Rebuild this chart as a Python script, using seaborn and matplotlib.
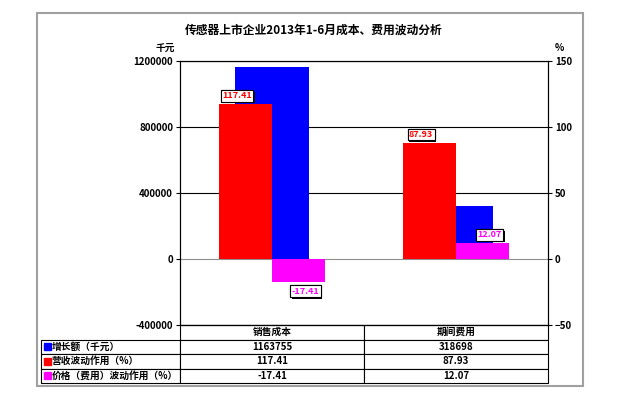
import pandas as pd
import matplotlib.pyplot as plt
import matplotlib.patheffects as pe
from matplotlib.patches import Rectangle
from matplotlib.ticker import FuncFormatter
import seaborn as sns

# 数据
categories = ['销售成本', '期间费用']
growth = [1163755, 318698]          # 增长额（千元）
revenue_effect = [117.41, 87.93]    # 营收波动作用（%）
price_effect = [-17.41, 12.07]      # 价格（费用）波动作用（%）
row_names = ['增长额（千元）', '营收波动作用（%）', '价格（费用）波动作用（%）']
left_ticks = [-400000, 0, 400000, 800000, 1200000]
right_ticks = [-50, 0, 50, 100, 150]

sns.set_style('white')
plt.rcParams['font.family'] = ['Noto Sans CJK SC', 'DejaVu Sans']
plt.rcParams['font.weight'] = 'bold'
plt.rcParams['text.color'] = 'black'
plt.rcParams['ytick.color'] = 'black'
plt.rcParams['ytick.labelcolor'] = 'black'

df_pct = pd.DataFrame({
    'cat': categories * 2,
    'serie': ['营收'] * 2 + ['价格'] * 2,
    'val': revenue_effect + price_effect,
})

fig = plt.figure(figsize=(6.18, 3.99), dpi=100)
fig.patches.append(Rectangle((37 / 618, 1 - 386 / 399), 546 / 618, 373 / 399,
                             transform=fig.transFigure, fill=False,
                             edgecolor='#a0a0a0', lw=1.5))
ax = fig.add_axes([180 / 618, 1 - 325 / 399, 368 / 618, 264 / 399])

sns.barplot(x=categories, y=growth, color='blue', saturation=1, width=0.40,
            linewidth=0, ax=ax)
ax.set_ylim(left_ticks[0], left_ticks[-1])
ax.set_yticks(left_ticks)
ax.yaxis.set_major_formatter(FuncFormatter(lambda v, p: f'{v:.0f}'))
ax.grid(axis='y', color='black', lw=0.8)
ax.get_ygridlines()[1].set_color('#909090')
ax.set_axisbelow(True)

ax2 = ax.twinx()
sns.barplot(data=df_pct, x='cat', y='val', hue='serie', palette=['red', 'magenta'],
            saturation=1, width=0.576, linewidth=0, ax=ax2, legend=False)
ax2.set_ylim(right_ticks[0], right_ticks[-1])
ax2.set_yticks(right_ticks)
ax2.set_ylabel('')
ax.set_xlim(-0.5, 1.5)
ax2.set_xlim(-0.5, 1.5)

for a in (ax, ax2):
    a.tick_params(axis='y', direction='out', length=3, width=0.8, labelsize=7, pad=2,
                  colors='black')
    a.tick_params(axis='x', bottom=False, labelbottom=False)
    a.set_xlabel('')
    for s in a.spines.values():
        s.set_color('black')
        s.set_linewidth(0.8)

# 数据标签
box = dict(boxstyle='square,pad=0.15', fc='white', ec='black', lw=0.8)
shadow = [pe.withSimplePatchShadow(offset=(1.3, -1.3), shadow_rgbFace='black', alpha=1), pe.Normal()]
for i, v in enumerate(revenue_effect):
    t = ax2.annotate(f'{v:.2f}', (i - 0.144, v), xytext=(-6, 6), textcoords='offset points',
                     ha='center', va='center', color='red', fontsize=6.5, bbox=box)
    t.get_bbox_patch().set_path_effects(shadow)
for i, v in enumerate(price_effect):
    dy = 6 if v >= 0 else -6.5
    t = ax2.annotate(f'{v:.2f}', (i + 0.144, v), xytext=(5, dy), textcoords='offset points',
                     ha='center', va='center', color='magenta', fontsize=6.5, bbox=box)
    t.get_bbox_patch().set_path_effects(shadow)

ax.text(-0.04, 1.05, '千元', transform=ax.transAxes, ha='center', va='center', fontsize=7)
ax.text(1.019, 1.05, '%', transform=ax.transAxes, ha='left', va='center', fontsize=7)
fig.text(314 / 618, 1 - 30 / 399, '传感器上市企业2013年1-6月成本、费用波动分析',
         ha='center', va='center', fontsize=8.5)

# 数据表
cell_text = [[row_names[0]] + [str(v) for v in growth],
             [row_names[1]] + [f'{v:.2f}' for v in revenue_effect],
             [row_names[2]] + [f'{v:.2f}' for v in price_effect]]
tab = ax.table(cellText=cell_text, colLabels=[''] + categories, cellLoc='center',
               colWidths=[139, 184, 184],
               bbox=[-139 / 368, -58 / 264, 507 / 368, 58 / 264])
tab.auto_set_font_size(False)
tab.set_fontsize(7)
for (r, c), cell in tab.get_celld().items():
    cell.set_linewidth(0.8)
    cell.get_text().set_fontweight('bold')
    cell.get_text().set_color('black')
    if r == 0 and c == 0:
        cell.visible_edges = ''
    if c == 0 and r > 0:
        cell._loc = 'left'
        cell.PAD = 0.075
        cell.get_text().set_ha('left')

key_colors = ['blue', 'red', 'magenta']
for k, col in enumerate(key_colors):
    yc = -58 / 264 * (k + 1.5) / 4
    ax.add_patch(Rectangle((-136 / 368, yc - 3.5 / 264), 6.5 / 368, 7 / 264,
                           transform=ax.transAxes, color=col, clip_on=False))

fig.savefig('out.png', dpi=100)
